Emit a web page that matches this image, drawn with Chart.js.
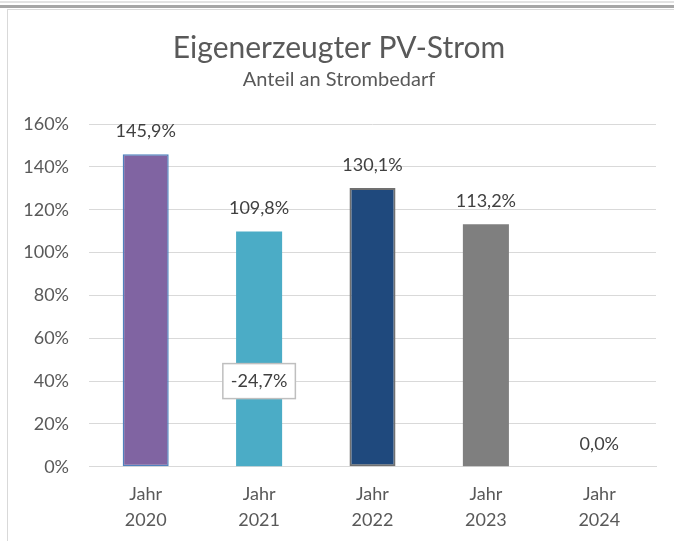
<!DOCTYPE html>
<html>
<head>
<meta charset="utf-8">
<script src="https://cdn.jsdelivr.net/npm/chart.js@4"></script>
<style>
  html, body { margin: 0; padding: 0; background: #fff; width: 674px; height: 541px; overflow: hidden; }
  #wrap { position: absolute; left: 0; top: 0; width: 674px; height: 541px; overflow: hidden; }
  .l1 { position: absolute; left: 0; top: 1px; width: 674px; height: 2px; background: #e2e2e2; }
  .l2 { position: absolute; left: 0; top: 5px; width: 674px; height: 3px; background: #a6a6a6; }
  .l3 { position: absolute; left: 7px; top: 9px; width: 667px; height: 1px; background: #d9d9d9; }
  .l4 { position: absolute; left: 7px; top: 9px; width: 1px; height: 532px; background: #d9d9d9; }
  canvas { position: absolute; left: 0; top: 0; }
</style>
</head>
<body>
<div id="wrap">
  <canvas id="c" width="674" height="547"></canvas>
  <div class="l1"></div><div class="l2"></div><div class="l3"></div><div class="l4"></div>
</div>
<script>
const categories = [["Jahr", "2020"], ["Jahr", "2021"], ["Jahr", "2022"], ["Jahr", "2023"], ["Jahr", "2024"]];
const values = [145.9, 109.8, 130.1, 113.2, 0.0];
const valueLabels = ["145,9%", "109,8%", "130,1%", "113,2%", "0,0%"];
const changeLabels = [null, "-24,7%", null, null, null];
const changeLabelAt = [null, 40, null, null, null];
const barColors = ["#8064A2", "#4BACC6", "#1F497D", "#7F7F7F", "#F79646"];
const barBorders = ["#4F81BD", "#4BACC6", "#707070", "#7F7F7F", "#F79646"];
const barBorderWidths = [1.5, 0, 2, 0, 0];
const yTicks = [0, 20, 40, 60, 80, 100, 120, 140, 160];

Chart.defaults.font.family = "Lato, 'Open Sans', sans-serif";
Chart.defaults.color = "#595959";

const labelPlugin = {
  id: "labels",
  afterDatasetsDraw(chart) {
    const ctx = chart.ctx;
    const meta = chart.getDatasetMeta(0);
    const ys = chart.scales.y;
    ctx.save();
    ctx.font = "18px Lato, 'Open Sans', sans-serif";
    ctx.textAlign = "center";
    ctx.textBaseline = "middle";
    meta.data.forEach((bar, i) => {
      ctx.fillStyle = "#404040";
      ctx.fillText(valueLabels[i], bar.x, bar.y - 23);
      if (changeLabels[i]) {
        const y = ys.getPixelForValue(changeLabelAt[i]);
        const w = ctx.measureText(changeLabels[i]).width + 16;
        const h = 35;
        ctx.fillStyle = "#ffffff";
        ctx.fillRect(bar.x - w / 2, y - h / 2, w, h);
        ctx.strokeStyle = "#BFBFBF";
        ctx.lineWidth = 1.5;
        ctx.strokeRect(bar.x - w / 2, y - h / 2, w, h);
        ctx.fillStyle = "#404040";
        ctx.fillText(changeLabels[i], bar.x, y);
      }
    });
    ctx.restore();
  }
};

new Chart(document.getElementById("c"), {
  type: "bar",
  data: {
    labels: categories,
    datasets: [{
      data: values,
      backgroundColor: barColors,
      borderColor: barBorders,
      borderWidth: barBorderWidths,
      borderSkipped: false,
      categoryPercentage: 1.0,
      barPercentage: 0.406
    }]
  },
  options: {
    responsive: false,
    animation: false,
    devicePixelRatio: 1,
    layout: { padding: { left: 22, right: 18, top: 0, bottom: 0 } },
    plugins: {
      legend: { display: false },
      tooltip: { enabled: false },
      title: {
        display: true,
        text: "Eigenerzeugter PV-Strom",
        color: "#595959",
        font: { size: 30, weight: "normal" },
        padding: { top: 30, bottom: 2 }
      },
      subtitle: {
        display: true,
        text: "Anteil an Strombedarf",
        color: "#595959",
        font: { size: 20, weight: "normal" },
        padding: { top: 0, bottom: 32 }
      }
    },
    scales: {
      y: {
        min: 0,
        max: 160,
        afterBuildTicks(scale) { scale.ticks = yTicks.map(v => ({ value: v })); },
        afterFit(scale) { scale.width = 67; },
        grid: { color: "#d9d9d9", lineWidth: 1, drawTicks: false },
        border: { display: false },
        ticks: {
          padding: 20,
          color: "#595959",
          font: { size: 18 },
          callback: v => v + "%"
        }
      },
      x: {
        grid: { display: false, drawTicks: false },
        border: { display: true, color: "#d9d9d9", width: 1 },
        ticks: {
          padding: 14,
          color: "#595959",
          font: { size: 18, lineHeight: 1.45 },
          maxRotation: 0
        }
      }
    }
  },
  plugins: [labelPlugin]
});
</script>
</body>
</html>
